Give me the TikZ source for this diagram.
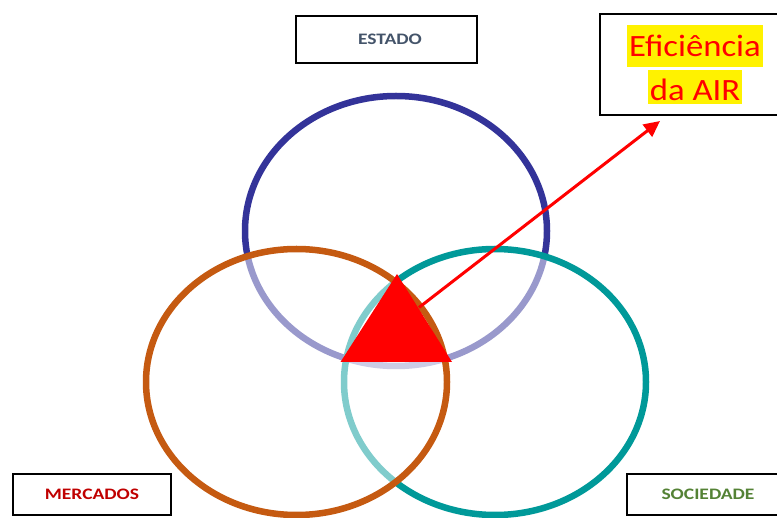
\documentclass[tikz,border=0pt]{standalone}
\usepackage{fontspec}
\usetikzlibrary{shapes.geometric,arrows.meta}
\newfontfamily\lblfont[FakeStretch=1.22]{Carlito}
\newfontfamily\effont[FakeStretch=1.12]{Carlito}
\definecolor{estadoblue}{HTML}{333399}
\definecolor{mercorange}{HTML}{C55A11}
\definecolor{socteal}{HTML}{009999}
\definecolor{estadotxt}{HTML}{44546A}
\definecolor{merctxt}{HTML}{C00000}
\definecolor{soctxt}{HTML}{548235}
\tikzset{
  ring/.style={ellipse, inner sep=0pt, line width=6.5pt},
  lblbox/.style={draw=black, line width=1.5pt, inner sep=0pt, font=\lblfont\bfseries\fontsize{16}{19}\selectfont},
}
\begin{document}
\begin{tikzpicture}[x=1pt,y=-1pt]
\clip (0,0) rectangle (777,518);
\fill[white] (0,0) rectangle (777,518);
% circles
\node[ring, draw=estadoblue, minimum width=302pt, minimum height=270pt] (estadoE) at (396,231) {};
\node[ring, draw=socteal, fill=white, fill opacity=0.5, draw opacity=1, minimum width=302pt, minimum height=266pt] (sociedadeE) at (495,382) {};
\node[ring, draw=mercorange, fill=white, fill opacity=0.5, draw opacity=1, minimum width=301pt, minimum height=266pt] (mercadosE) at (296.5,382) {};
% arrow
\coordinate (arrS) at (419,307.5);
\coordinate (arrE) at (660,121);
\draw[red, line width=3pt, -{Triangle[length=16pt,width=15pt]}] (arrS) -- (arrE);
% triangle
\coordinate (triT) at (397,274);
\coordinate (triL) at (340.5,362);
\coordinate (triR) at (452,362);
\fill[red] (triT) -- (triL) -- (triR) -- cycle;
% boxes
\node[lblbox, text=estadotxt, minimum width=181pt, minimum height=47pt] (estadoB) at (386.5,39.5) {\hspace{7pt}ESTADO};
\node[lblbox, text=merctxt, minimum width=158pt, minimum height=41pt] (mercB) at (92,494.5) {MERCADOS};
\node[lblbox, text=soctxt, minimum width=162pt, minimum height=41pt] (socB) at (708,494.5) {SOCIEDADE};
\setlength\fboxsep{0pt}
\node[draw=black, line width=2pt, inner sep=0pt, minimum width=190pt, minimum height=101pt, align=center, text=red, font=\effont\fontsize{31}{44}\selectfont] (efB) at (695,64.5)
  {\colorbox{yellow}{\rule[-10pt]{0pt}{42pt}\hspace{2pt}Eficiência\hspace{2pt}}\\
   \colorbox{yellow}{\rule[-3pt]{0pt}{34pt}\hspace{2pt}da AIR\hspace{2pt}}};
\end{tikzpicture}
\end{document}
